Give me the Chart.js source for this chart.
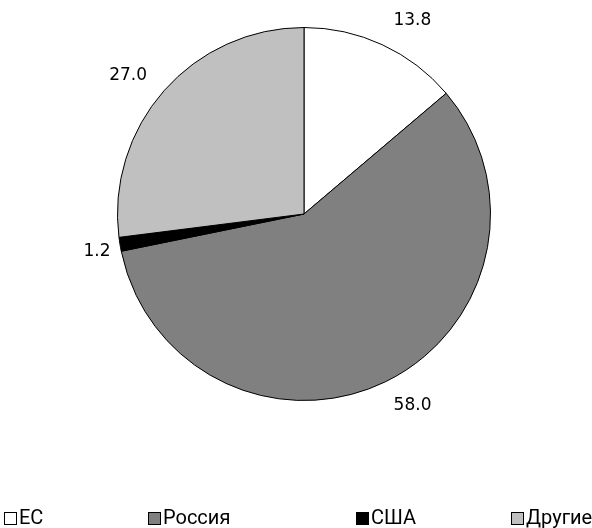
<!DOCTYPE html>
<html>
<head>
<meta charset="utf-8">
<script src="https://cdn.jsdelivr.net/npm/chart.js@4/dist/chart.umd.min.js"></script>
<style>
  html, body { margin: 0; padding: 0; background: #fff; }
  #wrap { width: 592px; height: 528px; position: relative; }
</style>
</head>
<body>
<div id="wrap"><canvas id="c" width="592" height="528"></canvas></div>
<script>
// Categories and shares (%)
const categories = ['ЕС', 'Россия', 'США', 'Другие'];
const shares = [13.8, 58.0, 1.2, 27.0];
const sliceColors = ['#ffffff', '#808080', '#000000', '#c0c0c0'];

// Value label placement: shift from the outer edge of each slice (px)
const labelShift = [[30, -24], [27, 24], [-23, 7], [-36, -15]];
// Legend item left edges (px)
const legendX = [4, 148, 356, 511];

const valueLabels = {
  id: 'valueLabels',
  afterDatasetsDraw(chart) {
    const ctx = chart.ctx;
    const meta = chart.getDatasetMeta(0);
    ctx.save();
    ctx.font = '17px "DejaVu Sans", Verdana, sans-serif';
    ctx.fillStyle = '#000';
    ctx.textAlign = 'center';
    ctx.textBaseline = 'middle';
    meta.data.forEach((arc, i) => {
      const p = arc.getProps(['x', 'y', 'startAngle', 'endAngle', 'outerRadius'], true);
      const mid = (p.startAngle + p.endAngle) / 2;
      const ex = p.x + Math.cos(mid) * p.outerRadius;
      const ey = p.y + Math.sin(mid) * p.outerRadius;
      ctx.fillText(shares[i].toFixed(1), ex + labelShift[i][0], ey + labelShift[i][1]);
    });
    ctx.restore();
  }
};

const bottomLegend = {
  id: 'bottomLegend',
  afterDraw(chart) {
    const ctx = chart.ctx;
    ctx.save();
    ctx.font = '20px Roboto, "Liberation Sans", sans-serif';
    ctx.textBaseline = 'middle';
    const y = 518;
    categories.forEach((name, i) => {
      const x = legendX[i];
      ctx.fillStyle = sliceColors[i];
      ctx.fillRect(x + 0.5, y - 5.5, 12, 12);
      ctx.strokeStyle = '#000';
      ctx.lineWidth = 1;
      ctx.strokeRect(x + 0.5, y - 5.5, 12, 12);
      ctx.fillStyle = '#000';
      ctx.textAlign = 'left';
      ctx.fillText(name, x + 15, y + 1);
    });
    ctx.restore();
  }
};

new Chart(document.getElementById('c'), {
  type: 'pie',
  data: {
    labels: categories,
    datasets: [{
      data: shares,
      backgroundColor: sliceColors,
      borderColor: '#000000',
      borderWidth: 1
    }]
  },
  options: {
    responsive: false,
    animation: false,
    devicePixelRatio: 1,
    layout: { padding: { top: 27, bottom: 127, left: 117, right: 101 } },
    plugins: {
      legend: { display: false },
      tooltip: { enabled: false }
    }
  },
  plugins: [valueLabels, bottomLegend]
});
</script>
</body>
</html>
